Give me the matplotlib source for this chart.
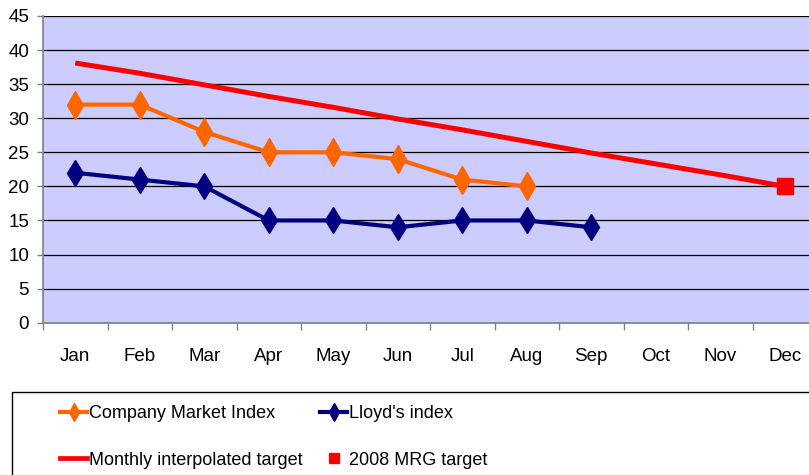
import matplotlib
matplotlib.use("Agg")
import matplotlib.pyplot as plt
from matplotlib.lines import Line2D
from matplotlib.patches import Rectangle

months = ["Jan", "Feb", "Mar", "Apr", "May", "Jun", "Jul", "Aug", "Sep", "Oct", "Nov", "Dec"]
company = [32, 32, 28, 25, 25, 24, 21, 20]
lloyds = [22, 21, 20, 15, 15, 14, 15, 15, 14]
target_line = [38.1, 36.6, 34.9, 33.2, 31.6, 29.9, 28.3, 26.6, 24.9, 23.3, 21.7, 20.0]
mrg_month = ["Dec"]
mrg_target = [20]
y_ticks = [0, 5, 10, 15, 20, 25, 30, 35, 40, 45]

plt.rcParams['font.family'] = ['Liberation Sans', 'DejaVu Sans']

W, H = 809, 475
fig = plt.figure(figsize=(W / 100, H / 100), dpi=100)
# plot area runs a bit past the right edge of the picture
ax = fig.add_axes([43 / W, (H - 322.7) / H, (817 - 43) / W, (322.7 - 16) / H])
ax.set_facecolor("#CCCCFF")

xi = {m: i for i, m in enumerate(months)}
ax.plot([xi[m] for m in months[:len(target_line)]], target_line, color="#FF0000", lw=3.6,
        solid_capstyle="butt", zorder=3)
ax.plot([xi[m] for m in months[:len(company)]], company, color="#FF6600", lw=3.0,
        marker="d", ms=14, zorder=4)
ax.plot([xi[m] for m in months[:len(lloyds)]], lloyds, color="#000080", lw=3.0,
        marker="d", ms=13, zorder=4)
ax.plot([xi[m] for m in mrg_month], mrg_target, linestyle="none", marker="s", ms=12,
        color="#FF0000", zorder=5)

ax.set_xlim(-0.5, 11.5)
ax.set_ylim(0, 45)
ax.set_yticks(y_ticks)
ax.tick_params(axis="y", length=4, width=1, color="#808080", pad=6, labelsize=13.5)
ax.yaxis.grid(True, color="black", lw=0.9)
ax.set_axisbelow(True)

ax.set_xticks([i - 0.5 for i in range(len(months))])
ax.set_xticklabels([])
ax.set_xticks(range(len(months)), minor=True)
ax.set_xticklabels(months, minor=True)
ax.tick_params(axis="x", which="major", length=5, width=1, color="#808080")
ax.tick_params(axis="x", which="minor", length=0, pad=18, labelsize=13.5)

for s in ["top", "right"]:
    ax.spines[s].set_visible(False)
for s in ["left", "bottom"]:
    ax.spines[s].set_color("#808080")
    ax.spines[s].set_linewidth(1.2)

# legend box
fig.patches.append(Rectangle((12 / W, -0.05), 0.99, (H - 392) / H + 0.05,
                             transform=fig.transFigure, fill=False, ec="black", lw=1))

h_company = Line2D([], [], color="#FF6600", lw=3.0, marker="d", ms=9)
h_lloyds = Line2D([], [], color="#000080", lw=3.0, marker="d", ms=9)
h_target = Line2D([], [], color="#FF0000", lw=3.4)
h_mrg = Line2D([], [], color="#FF0000", lw=0, marker="s", ms=7)

common = dict(loc="upper left", frameon=False, fontsize=13, borderpad=0, borderaxespad=0,
              handlelength=1.5, handletextpad=0.1, labelspacing=1.65)
fig.legend([h_company, h_target], ["Company Market Index", "Monthly interpolated target"],
           bbox_to_anchor=(60 / W, (H - 405) / H), **common)
fig.legend([h_lloyds, h_mrg], ["Lloyd's index", "2008 MRG target"],
           bbox_to_anchor=(320 / W, (H - 405) / H), **common)

fig.savefig("out.png", dpi=100)
